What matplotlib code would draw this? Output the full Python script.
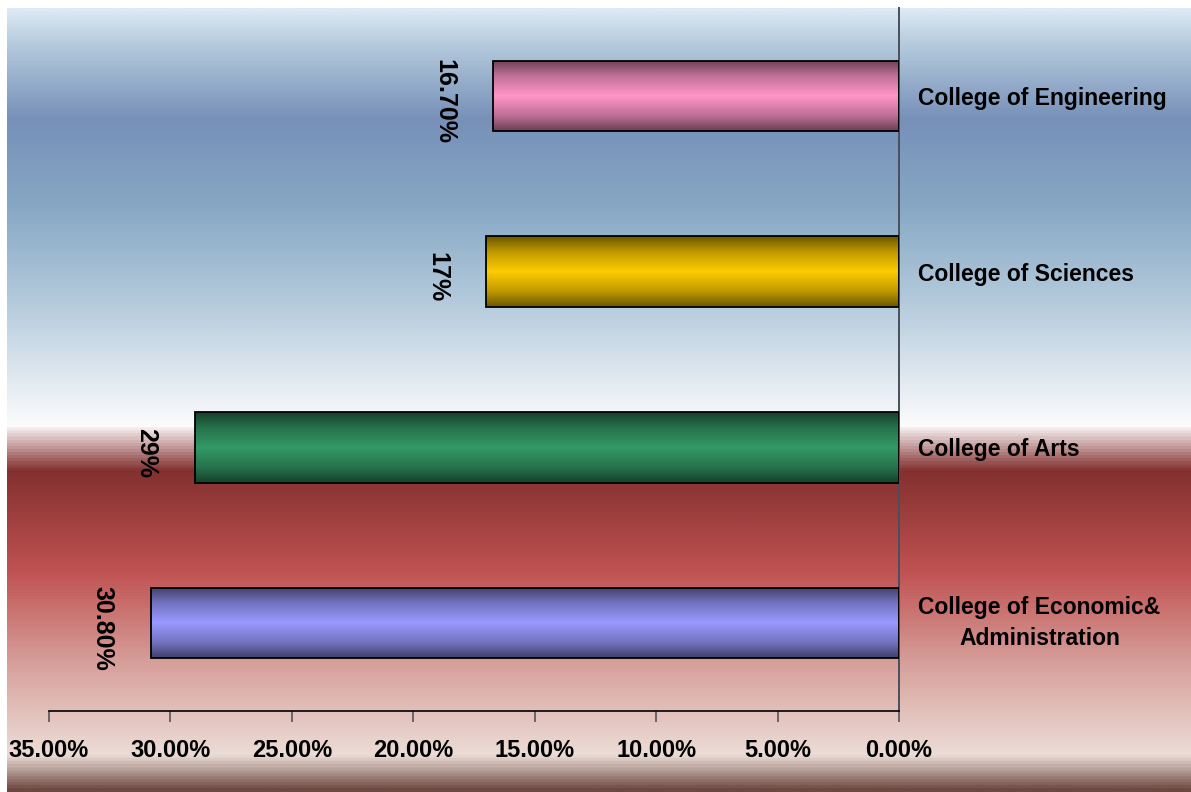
import numpy as np
import matplotlib
matplotlib.use("Agg")
import matplotlib.pyplot as plt
from matplotlib.colors import LinearSegmentedColormap, to_rgb

# data, listed top to bottom as in the chart
colleges = ["College of Engineering", "College of Sciences", "College of Arts",
            "College of Economic&\nAdministration"]
shares = [16.7, 17.0, 29.0, 30.8]
value_labels = ["16.70%", "17%", "29%", "30.80%"]
bar_colors = ["#ff96c8", "#ffcc00", "#339966", "#9999ff"]
xticks = [35, 30, 25, 20, 15, 10, 5, 0]
xtick_labels = ["35.00%", "30.00%", "25.00%", "20.00%", "15.00%", "10.00%", "5.00%", "0.00%"]

W, H = 1191, 792
fig = plt.figure(figsize=(W / 100, H / 100), dpi=100)

# background gradient (top of image = position 0)
bg_stops = [
    (0.00, "#dde9f4"), (0.045, "#b4cadd"), (0.14, "#7790b8"), (0.25, "#86a7c4"),
    (0.38, "#b6ccdd"), (0.50, "#edf1f5"), (0.535, "#fcfcfd"), (0.537, "#f3ebeb"),
    (0.59, "#82302f"), (0.72, "#c05252"), (0.84, "#d7a19c"), (0.955, "#ecddd7"),
    (1.00, "#6e4842"),
]
bg_cmap = LinearSegmentedColormap.from_list("bg", bg_stops)
bg_ax = fig.add_axes([7 / W, 0, 1 - 7 / W, (H - 8) / H])
grad = np.linspace(0, 1, 800).reshape(-1, 1)
bg_ax.imshow(grad, aspect="auto", cmap=bg_cmap, extent=(0, 1, 0, 1), origin="upper")
bg_ax.axis("off")

ax = fig.add_axes([49 / W, (H - 711) / H, (899 - 49) / W, (711 - 8) / H])
ax.set_facecolor("none")

n = len(colleges)
ypos = np.arange(n)[::-1]
bh = 0.4

bars = ax.barh(ypos, shares, height=bh, facecolor="none", edgecolor="black",
               linewidth=1.3, zorder=3)

def shade(c):
    base = np.array(to_rgb(c))
    dark = base * 0.42
    return LinearSegmentedColormap.from_list(
        "s", [(0, dark), (0.22, base * 0.75), (0.5, base), (0.78, base * 0.75), (1, dark)])

for b, v, c, y in zip(bars, shares, bar_colors, ypos):
    g = np.linspace(0, 1, 200).reshape(-1, 1)
    im = ax.imshow(g, aspect="auto", cmap=shade(c), origin="upper",
                   extent=(0, v, y - bh / 2, y + bh / 2), zorder=2)
    im.set_clip_path(b)

for v, lab, y in zip(shares, value_labels, ypos):
    ax.text(v + 2.0, y - 0.03, lab, rotation=270, ha="center", va="center",
            fontsize=18, fontweight="bold", family=["Liberation Sans", "DejaVu Sans"])

ax.set_xlim(35, 0)
ax.set_ylim(-0.5, n - 0.5)

for s in ["left", "top"]:
    ax.spines[s].set_visible(False)
ax.spines["right"].set_color("#4a4f5c")
ax.spines["right"].set_linewidth(1.4)
ax.spines["bottom"].set_color("black")
ax.spines["bottom"].set_linewidth(1.2)

ax.set_xticks(xticks)
ax.set_xticklabels(xtick_labels, fontsize=17, fontweight="bold",
                   family=["Liberation Sans Narrow", "Liberation Sans"])
ax.tick_params(axis="x", direction="out", length=8, color="#555555", width=1.2, pad=12)

ax.yaxis.tick_right()
ax.set_yticks(ypos)
ax.set_yticklabels(colleges, fontsize=16.5, fontweight="bold",
                   family=["Liberation Sans", "DejaVu Sans"])
ax.tick_params(axis="y", length=0, pad=14)
for t in ax.get_yticklabels():
    t.set_horizontalalignment("left")
    t.set_multialignment("center")
    t.set_linespacing(1.45)
    if "\n" in t.get_text():
        t.set_verticalalignment("center")

fig.savefig("out.png", dpi=100)
